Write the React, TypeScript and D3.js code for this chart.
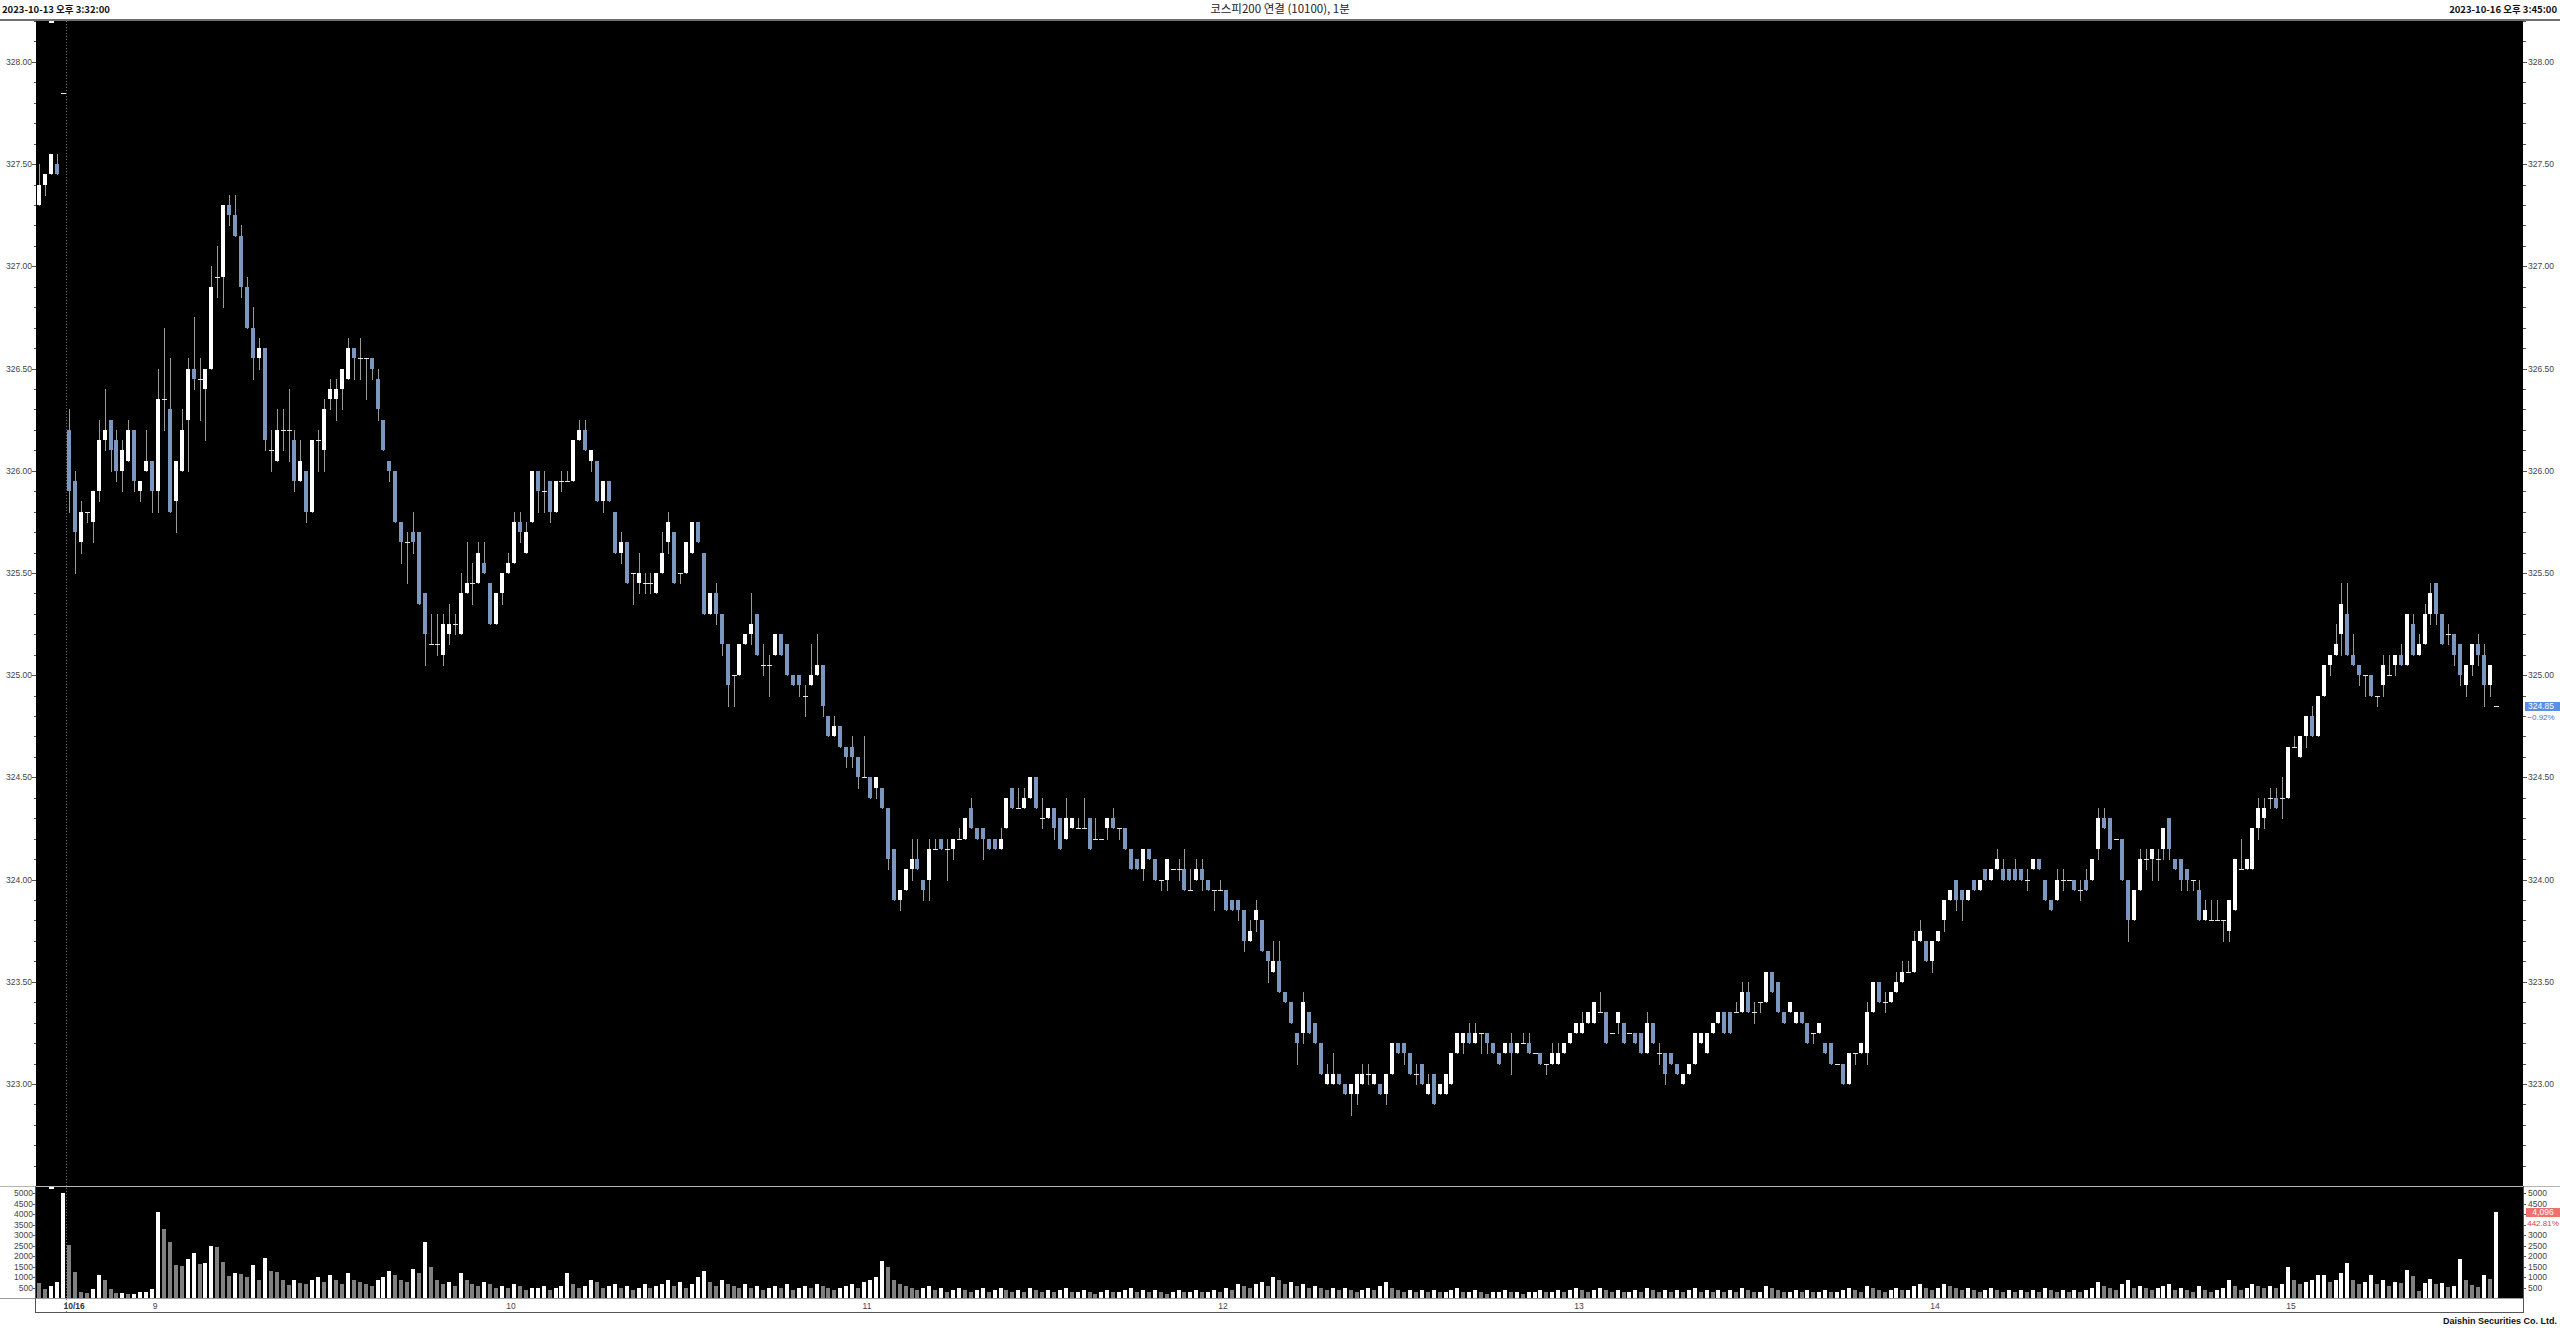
import * as d3 from "d3";
import { useEffect } from "react";

// candles: 5 from 10/13 close, then 10/16 from 08:45
const opens = [
  327.3, 327.4, 327.45, 327.5, 327.85,
  326.2, 325.95, 325.65, 325.8, 325.75, 325.9, 326.15, 326.25, 326.15, 326.0,
  326.05, 326.2, 325.9, 326.0, 326.05, 325.9, 326.35, 326.3, 325.85, 326.0,
  326.25, 326.5, 326.45, 326.4, 326.5, 326.95, 326.95, 327.3, 327.25, 327.15,
  326.9, 326.7, 326.55, 326.6, 326.1, 326.05, 326.2, 326.2, 326.15, 325.95,
  326.0, 325.8, 326.15, 326.1, 326.35, 326.35, 326.4, 326.45, 326.6, 326.55,
  326.55, 326.55, 326.45, 326.25, 326.05, 326.0, 325.75, 325.65, 325.7, 325.7,
  325.4, 325.15, 325.15, 325.1, 325.2, 325.25, 325.2, 325.4, 325.45, 325.45,
  325.55, 325.45, 325.25, 325.4, 325.5, 325.55, 325.75, 325.6, 325.75, 326.0,
  325.9, 325.95, 325.8, 325.95, 325.95, 325.95, 326.15, 326.2, 326.05, 326.05,
  325.85, 325.95, 325.8, 325.6, 325.65, 325.5, 325.45, 325.45, 325.45, 325.4,
  325.5, 325.65, 325.7, 325.5, 325.5, 325.6, 325.75, 325.6, 325.3, 325.4,
  325.3, 325.15, 325.0, 325.0, 325.15, 325.2, 325.3, 325.05, 325.05, 325.1,
  325.2, 325.15, 325.0, 325.0, 324.9, 324.95, 325.0, 325.05, 324.8, 324.7,
  324.75, 324.65, 324.65, 324.6, 324.5, 324.5, 324.45, 324.45, 324.35, 324.15,
  323.9, 323.95, 324.05, 324.1, 324.0, 324.0, 324.15, 324.2, 324.15, 324.15,
  324.2, 324.2, 324.35, 324.25, 324.25, 324.2, 324.2, 324.15, 324.25, 324.45,
  324.35, 324.35, 324.4, 324.5, 324.3, 324.3, 324.35, 324.3, 324.2, 324.25,
  324.25, 324.25, 324.3, 324.2, 324.2, 324.25, 324.3, 324.25, 324.25, 324.15,
  324.1, 324.05, 324.15, 324.1, 324.0, 324.0, 324.05, 324.05, 324.05, 323.95,
  324.0, 324.05, 324.0, 323.95, 323.95, 323.95, 323.9, 323.9, 323.85, 323.7,
  323.8, 323.8, 323.65, 323.55, 323.6, 323.45, 323.4, 323.25, 323.25, 323.35,
  323.3, 323.2, 323.0, 323.0, 323.05, 323.0, 322.95, 322.95, 323.0, 323.05,
  323.0, 323.0, 322.95, 323.05, 323.2, 323.2, 323.15, 323.05, 323.1, 322.95,
  323.05, 322.95, 322.95, 323.0, 323.15, 323.2, 323.25, 323.2, 323.25, 323.25,
  323.2, 323.15, 323.15, 323.2, 323.15, 323.2, 323.2, 323.15, 323.15, 323.1,
  323.1, 323.1, 323.15, 323.2, 323.25, 323.25, 323.3, 323.3, 323.35, 323.35,
  323.25, 323.3, 323.3, 323.25, 323.25, 323.25, 323.15, 323.3, 323.15, 323.15,
  323.15, 323.1, 323.0, 323.05, 323.1, 323.2, 323.15, 323.25, 323.3, 323.35,
  323.35, 323.35, 323.35, 323.45, 323.35, 323.4, 323.4, 323.55, 323.5, 323.35,
  323.35, 323.3, 323.35, 323.3, 323.25, 323.25, 323.2, 323.2, 323.1, 323.1,
  323.0, 323.15, 323.15, 323.15, 323.35, 323.5, 323.4, 323.4, 323.45, 323.5,
  323.55, 323.55, 323.7, 323.7, 323.6, 323.7, 323.8, 323.9, 324.0, 323.95,
  323.9, 324.0, 323.95, 324.05, 324.0, 324.05, 324.05, 324.05, 324.05, 324.05,
  324.0, 324.05, 324.1, 324.0, 323.9, 323.9, 324.0, 324.0, 324.0, 323.95,
  324.0, 324.0, 324.15, 324.3, 324.3, 324.2, 324.2, 324.0, 323.8, 323.95,
  324.1, 324.1, 324.1, 324.15, 324.3, 324.1, 324.1, 324.05, 324.0, 323.95,
  323.8, 323.8, 323.8, 323.8, 323.75, 323.85, 324.05, 324.05, 324.05, 324.25,
  324.3, 324.4, 324.4, 324.4, 324.4, 324.65, 324.6, 324.7, 324.8, 324.7,
  324.9, 325.05, 325.1, 325.2, 325.3, 325.1, 325.05, 325.0, 325.0, 324.9,
  324.95, 325.0, 325.05, 325.1, 325.05, 325.25, 325.1, 325.15, 325.3, 325.45,
  325.3, 325.2, 325.2, 325.15, 324.95, 325.05, 325.15, 325.1, 324.95, 324.85,
];

const highs = [
  327.5, 327.45, 327.55, 327.55, 327.85,
  326.3, 326.0, 325.85, 325.8, 325.9, 326.25, 326.4, 326.25, 326.2, 326.15,
  326.25, 326.2, 325.95, 326.2, 326.05, 326.5, 326.7, 326.55, 326.05, 326.3,
  326.55, 326.75, 326.55, 326.5, 327.0, 327.1, 327.3, 327.35, 327.35, 327.2,
  326.95, 326.8, 326.65, 326.6, 326.2, 326.3, 326.3, 326.4, 326.2, 326.15,
  326.0, 326.15, 326.2, 326.35, 326.45, 326.45, 326.5, 326.65, 326.6, 326.65,
  326.55, 326.55, 326.5, 326.25, 326.05, 326.0, 325.75, 325.7, 325.8, 325.7,
  325.4, 325.3, 325.3, 325.3, 325.35, 325.3, 325.5, 325.65, 325.55, 325.65,
  325.65, 325.45, 325.4, 325.5, 325.6, 325.8, 325.8, 325.75, 326.0, 326.0,
  326.0, 325.95, 325.95, 326.0, 326.0, 326.15, 326.25, 326.25, 326.1, 326.05,
  325.95, 325.95, 325.8, 325.7, 325.65, 325.5, 325.6, 325.5, 325.5, 325.5,
  325.7, 325.8, 325.7, 325.5, 325.65, 325.75, 325.75, 325.6, 325.4, 325.45,
  325.3, 325.15, 325.0, 325.15, 325.2, 325.4, 325.3, 325.15, 325.1, 325.2,
  325.2, 325.15, 325.0, 325.0, 324.95, 325.15, 325.2, 325.05, 324.8, 324.8,
  324.75, 324.65, 324.7, 324.6, 324.7, 324.5, 324.5, 324.45, 324.35, 324.15,
  323.95, 324.05, 324.2, 324.2, 324.0, 324.2, 324.2, 324.2, 324.2, 324.2,
  324.25, 324.3, 324.4, 324.25, 324.25, 324.2, 324.2, 324.25, 324.4, 324.45,
  324.45, 324.45, 324.5, 324.5, 324.4, 324.35, 324.35, 324.3, 324.4, 324.3,
  324.3, 324.4, 324.3, 324.3, 324.2, 324.3, 324.35, 324.25, 324.25, 324.15,
  324.1, 324.15, 324.15, 324.1, 324.0, 324.1, 324.05, 324.1, 324.15, 324.05,
  324.1, 324.1, 324.0, 323.95, 324.0, 323.95, 323.9, 323.9, 323.85, 323.8,
  323.9, 323.8, 323.65, 323.7, 323.7, 323.45, 323.4, 323.25, 323.45, 323.35,
  323.3, 323.2, 323.1, 323.15, 323.05, 323.0, 323.0, 323.05, 323.1, 323.1,
  323.05, 323.0, 323.05, 323.2, 323.2, 323.2, 323.15, 323.1, 323.1, 323.05,
  323.05, 323.0, 323.05, 323.15, 323.25, 323.25, 323.3, 323.3, 323.25, 323.25,
  323.2, 323.15, 323.2, 323.25, 323.2, 323.25, 323.25, 323.15, 323.15, 323.1,
  323.2, 323.2, 323.2, 323.25, 323.3, 323.35, 323.35, 323.4, 323.45, 323.35,
  323.25, 323.35, 323.3, 323.25, 323.25, 323.25, 323.35, 323.3, 323.2, 323.15,
  323.15, 323.1, 323.05, 323.1, 323.25, 323.25, 323.25, 323.3, 323.35, 323.35,
  323.35, 323.4, 323.5, 323.5, 323.4, 323.4, 323.55, 323.55, 323.5, 323.35,
  323.4, 323.35, 323.35, 323.3, 323.25, 323.3, 323.2, 323.2, 323.1, 323.1,
  323.15, 323.15, 323.2, 323.4, 323.5, 323.5, 323.45, 323.45, 323.55, 323.6,
  323.6, 323.75, 323.8, 323.7, 323.7, 323.75, 323.9, 323.95, 324.0, 323.95,
  323.95, 324.0, 324.0, 324.05, 324.05, 324.15, 324.1, 324.05, 324.1, 324.05,
  324.05, 324.1, 324.1, 324.0, 323.9, 324.05, 324.05, 324.0, 324.0, 324.0,
  324.05, 324.1, 324.35, 324.35, 324.3, 324.2, 324.2, 324.0, 323.95, 324.15,
  324.15, 324.15, 324.15, 324.25, 324.3, 324.1, 324.1, 324.05, 324.0, 324.0,
  323.9, 323.9, 323.9, 323.8, 323.9, 324.1, 324.2, 324.1, 324.25, 324.4,
  324.4, 324.45, 324.45, 324.5, 324.65, 324.7, 324.7, 324.8, 324.85, 324.9,
  325.05, 325.1, 325.25, 325.45, 325.45, 325.2, 325.05, 325.0, 325.0, 324.9,
  325.1, 325.1, 325.1, 325.15, 325.3, 325.3, 325.2, 325.35, 325.45, 325.45,
  325.3, 325.25, 325.2, 325.15, 325.05, 325.15, 325.2, 325.15, 325.05, 324.85,
];

const lows = [
  327.3, 327.35, 327.45, 327.45, 327.85,
  325.8, 325.5, 325.6, 325.75, 325.65, 325.85, 326.1, 326.0, 325.95, 325.9,
  326.05, 325.9, 325.85, 326.0, 325.8, 325.8, 326.2, 325.8, 325.7, 326.0,
  326.0, 326.4, 326.25, 326.15, 326.5, 326.85, 326.8, 327.2, 327.15, 326.85,
  326.7, 326.45, 326.5, 326.1, 326.0, 326.05, 326.1, 326.05, 325.9, 325.95,
  325.75, 325.8, 326.0, 326.0, 326.3, 326.25, 326.3, 326.45, 326.45, 326.45,
  326.35, 326.45, 326.25, 326.1, 325.95, 325.75, 325.55, 325.45, 325.6, 325.35,
  325.05, 325.15, 325.1, 325.05, 325.15, 325.2, 325.2, 325.4, 325.35, 325.45,
  325.5, 325.25, 325.25, 325.35, 325.5, 325.55, 325.65, 325.6, 325.75, 325.8,
  325.8, 325.75, 325.8, 325.9, 325.95, 325.95, 326.15, 326.1, 326.0, 325.85,
  325.8, 325.85, 325.6, 325.55, 325.45, 325.35, 325.4, 325.4, 325.4, 325.4,
  325.5, 325.6, 325.45, 325.45, 325.5, 325.6, 325.65, 325.3, 325.3, 325.25,
  325.1, 324.85, 324.85, 325.0, 325.15, 325.15, 325.1, 325.0, 324.9, 325.1,
  325.1, 325.0, 324.95, 324.9, 324.8, 324.95, 325.0, 324.8, 324.7, 324.7,
  324.65, 324.55, 324.55, 324.45, 324.5, 324.4, 324.4, 324.35, 324.05, 323.9,
  323.85, 323.95, 324.0, 324.05, 323.9, 323.9, 324.15, 324.15, 324.0, 324.1,
  324.2, 324.2, 324.25, 324.2, 324.1, 324.15, 324.15, 324.15, 324.25, 324.35,
  324.35, 324.35, 324.4, 324.35, 324.25, 324.3, 324.2, 324.15, 324.2, 324.25,
  324.25, 324.25, 324.15, 324.2, 324.2, 324.2, 324.25, 324.2, 324.15, 324.05,
  324.05, 324.0, 324.1, 324.0, 323.95, 323.95, 324.05, 324.0, 323.95, 323.95,
  324.0, 323.95, 323.95, 323.85, 323.95, 323.85, 323.85, 323.8, 323.65, 323.7,
  323.75, 323.65, 323.5, 323.55, 323.45, 323.4, 323.3, 323.1, 323.2, 323.25,
  323.2, 323.05, 323.0, 323.0, 323.0, 322.95, 322.85, 322.9, 323.0, 323.0,
  323.0, 322.95, 322.9, 323.05, 323.15, 323.1, 323.05, 323.0, 323.0, 322.95,
  322.9, 322.95, 322.95, 323.0, 323.15, 323.15, 323.2, 323.2, 323.15, 323.15,
  323.15, 323.1, 323.15, 323.05, 323.15, 323.2, 323.15, 323.15, 323.1, 323.05,
  323.1, 323.1, 323.15, 323.2, 323.25, 323.25, 323.3, 323.3, 323.35, 323.2,
  323.25, 323.25, 323.2, 323.25, 323.2, 323.15, 323.15, 323.2, 323.1, 323.0,
  323.1, 323.05, 323.0, 323.05, 323.1, 323.2, 323.15, 323.25, 323.3, 323.25,
  323.25, 323.35, 323.35, 323.35, 323.3, 323.35, 323.4, 323.45, 323.35, 323.3,
  323.35, 323.3, 323.3, 323.2, 323.2, 323.25, 323.15, 323.1, 323.1, 323.0,
  323.0, 323.1, 323.15, 323.1, 323.35, 323.4, 323.35, 323.4, 323.45, 323.5,
  323.55, 323.55, 323.7, 323.6, 323.55, 323.7, 323.75, 323.9, 323.85, 323.8,
  323.9, 323.95, 323.95, 324.0, 324.0, 324.05, 324.0, 324.0, 324.0, 324.0,
  323.95, 324.05, 324.05, 323.9, 323.85, 323.9, 323.95, 324.0, 323.95, 323.9,
  323.95, 324.0, 324.1, 324.25, 324.15, 324.2, 324.0, 323.7, 323.8, 323.95,
  324.05, 324.0, 324.0, 324.1, 324.1, 324.05, 323.95, 323.95, 323.95, 323.8,
  323.8, 323.8, 323.8, 323.7, 323.7, 323.85, 324.05, 324.05, 324.05, 324.2,
  324.25, 324.35, 324.35, 324.3, 324.4, 324.65, 324.6, 324.65, 324.7, 324.7,
  324.9, 325.0, 325.1, 325.1, 325.1, 325.05, 324.95, 324.9, 324.9, 324.85,
  324.9, 325.0, 325.0, 325.05, 325.05, 325.1, 325.1, 325.15, 325.25, 325.25,
  325.15, 325.15, 325.05, 324.95, 324.9, 325.0, 325.05, 324.85, 324.9, 324.85,
];

const closes = [
  327.4, 327.45, 327.55, 327.45, 327.85,
  325.9, 325.7, 325.8, 325.8, 325.9, 326.15, 326.2, 326.1, 326.0, 326.1,
  326.2, 325.95, 325.95, 326.05, 325.9, 326.35, 326.35, 325.8, 326.05, 326.2,
  326.5, 326.45, 326.45, 326.5, 326.9, 326.95, 327.3, 327.25, 327.15, 326.9,
  326.7, 326.55, 326.6, 326.15, 326.1, 326.2, 326.2, 326.2, 325.95, 326.05,
  325.8, 326.15, 326.15, 326.3, 326.4, 326.4, 326.5, 326.6, 326.55, 326.55,
  326.55, 326.5, 326.3, 326.1, 326.0, 325.75, 325.65, 325.65, 325.65, 325.35,
  325.2, 325.15, 325.15, 325.25, 325.25, 325.25, 325.4, 325.45, 325.45, 325.6,
  325.5, 325.25, 325.4, 325.5, 325.55, 325.75, 325.7, 325.7, 326.0, 325.9,
  325.9, 325.8, 325.95, 325.95, 325.95, 326.15, 326.2, 326.1, 326.1, 325.85,
  325.95, 325.85, 325.6, 325.65, 325.45, 325.5, 325.5, 325.45, 325.45, 325.5,
  325.6, 325.75, 325.45, 325.5, 325.65, 325.75, 325.65, 325.3, 325.4, 325.3,
  325.15, 324.95, 325.0, 325.15, 325.2, 325.25, 325.1, 325.05, 325.05, 325.2,
  325.1, 325.0, 324.95, 324.95, 324.9, 325.0, 325.05, 324.85, 324.7, 324.75,
  324.65, 324.6, 324.6, 324.5, 324.5, 324.4, 324.5, 324.35, 324.1, 323.9,
  323.95, 324.05, 324.1, 324.05, 323.95, 324.15, 324.15, 324.15, 324.15, 324.2,
  324.2, 324.3, 324.25, 324.2, 324.2, 324.15, 324.15, 324.2, 324.4, 324.35,
  324.35, 324.4, 324.5, 324.35, 324.3, 324.35, 324.25, 324.15, 324.3, 324.3,
  324.25, 324.25, 324.15, 324.2, 324.2, 324.3, 324.25, 324.25, 324.15, 324.05,
  324.05, 324.15, 324.1, 324.0, 324.0, 324.1, 324.05, 324.05, 323.95, 323.95,
  324.05, 324.0, 323.95, 323.95, 323.95, 323.85, 323.85, 323.85, 323.7, 323.75,
  323.85, 323.65, 323.6, 323.6, 323.45, 323.4, 323.3, 323.2, 323.4, 323.25,
  323.2, 323.05, 323.05, 323.05, 323.0, 322.95, 323.0, 323.05, 323.05, 323.05,
  323.05, 322.95, 323.05, 323.2, 323.15, 323.15, 323.05, 323.05, 323.0, 323.0,
  322.9, 323.0, 323.05, 323.15, 323.25, 323.25, 323.2, 323.25, 323.25, 323.2,
  323.15, 323.1, 323.2, 323.15, 323.2, 323.2, 323.15, 323.15, 323.1, 323.1,
  323.15, 323.15, 323.2, 323.25, 323.3, 323.3, 323.35, 323.4, 323.35, 323.2,
  323.25, 323.35, 323.2, 323.25, 323.2, 323.15, 323.3, 323.2, 323.15, 323.05,
  323.1, 323.05, 323.05, 323.1, 323.25, 323.25, 323.25, 323.3, 323.35, 323.25,
  323.25, 323.35, 323.45, 323.35, 323.35, 323.4, 323.55, 323.45, 323.35, 323.3,
  323.4, 323.35, 323.3, 323.2, 323.25, 323.3, 323.15, 323.1, 323.1, 323.0,
  323.15, 323.15, 323.2, 323.35, 323.5, 323.4, 323.4, 323.45, 323.5, 323.55,
  323.55, 323.7, 323.75, 323.6, 323.7, 323.75, 323.9, 323.95, 323.9, 323.9,
  323.95, 323.95, 324.0, 324.0, 324.05, 324.1, 324.0, 324.0, 324.0, 324.0,
  324.0, 324.1, 324.05, 323.9, 323.85, 324.0, 324.0, 324.0, 323.95, 323.95,
  323.95, 324.1, 324.3, 324.25, 324.15, 324.2, 324.0, 323.8, 323.95, 324.1,
  324.1, 324.15, 324.1, 324.25, 324.15, 324.05, 324.0, 324.0, 324.0, 323.8,
  323.85, 323.8, 323.8, 323.8, 323.9, 324.1, 324.05, 324.1, 324.25, 324.35,
  324.35, 324.4, 324.35, 324.4, 324.65, 324.65, 324.7, 324.8, 324.7, 324.9,
  325.05, 325.1, 325.15, 325.35, 325.1, 325.05, 325.0, 325.0, 324.9, 324.9,
  325.05, 325.0, 325.1, 325.05, 325.3, 325.1, 325.15, 325.3, 325.4, 325.3,
  325.15, 325.2, 325.1, 325.0, 325.05, 325.15, 325.1, 324.95, 325.05, 324.85,
];

const volumes = [
  720, 460, 570, 800, 5000,
  2530, 1250, 300, 270, 470, 1100, 900, 470, 250, 280,
  210, 210, 300, 300, 440, 4080, 3300, 2680, 1580, 1520,
  1880, 2150, 1620, 1680, 2500, 2420, 1750, 1070, 1200, 1140,
  1040, 1580, 880, 1930, 1300, 1270, 860, 640, 880, 750,
  700, 900, 1000, 800, 1100, 900, 700, 1200, 900, 800,
  700, 600, 900, 1000, 1300, 1100, 900, 800, 1400, 1200,
  2700, 1500, 900, 700, 800, 600, 1200, 900, 700, 600,
  800, 700, 500, 600, 500, 700, 600, 400, 500, 500,
  600, 400, 500, 600, 1200, 700, 500, 600, 900, 800,
  500, 600, 700, 500, 600, 400, 500, 700, 500, 600,
  700, 900, 600, 800, 500, 700, 1000, 1300, 800, 600,
  900, 700, 600, 500, 700, 500, 600, 400, 500, 600,
  500, 700, 400, 500, 600, 500, 700, 600, 500, 400,
  500, 600, 700, 500, 800, 900, 1000, 1800, 1500, 900,
  700, 600, 500, 400, 500, 600, 400, 500, 300, 400,
  500, 400, 300, 400, 500, 300, 400, 500, 400, 300,
  400, 300, 500, 400, 300, 400, 300, 400, 500, 300,
  300, 400, 300, 200, 300, 400, 300, 300, 400, 500,
  300, 400, 300, 400, 300, 200, 300, 400, 300, 300,
  400, 300, 300, 400, 300, 500, 400, 700, 600, 500,
  700, 800, 600, 1000, 900, 700, 800, 600, 700, 500,
  600, 500, 400, 500, 400, 500, 400, 300, 400, 500,
  400, 600, 800, 500, 400, 300, 400, 300, 400, 300,
  400, 300, 300, 400, 500, 300, 300, 400, 300, 200,
  300, 300, 400, 300, 300, 200, 300, 300, 400, 300,
  300, 400, 300, 400, 500, 400, 300, 400, 500, 400,
  300, 400, 300, 300, 400, 300, 500, 400, 300, 400,
  300, 400, 300, 400, 500, 300, 400, 300, 400, 300,
  400, 300, 500, 400, 300, 300, 600, 500, 400, 300,
  300, 400, 300, 400, 300, 300, 400, 300, 300, 400,
  500, 400, 300, 600, 500, 400, 300, 400, 500, 400,
  400, 600, 700, 500, 400, 500, 700, 600, 500, 400,
  500, 400, 300, 400, 500, 400, 300, 400, 300, 400,
  300, 400, 300, 500, 400, 300, 400, 300, 400, 300,
  400, 500, 800, 600, 500, 400, 700, 900, 500, 600,
  500, 400, 500, 600, 700, 400, 500, 400, 300, 600,
  400, 300, 400, 500, 900, 600, 400, 500, 700, 600,
  500, 600, 500, 700, 1500, 900, 700, 800, 900, 1100,
  1100, 800, 900, 1200, 1700, 900, 700, 800, 1100, 700,
  900, 600, 800, 730, 1350, 1060, 370, 730, 920, 680,
  730, 560, 590, 1880, 880, 630, 540, 1105, 925, 4096,
];

const firstIndex = -5; // candle index of the first 10/13 bar
const dayLabel = "10/16";
const hourStarts = [15, 75, 135, 195, 255, 315, 375];
const hourLabels = ["9", "10", "11", "12", "13", "14", "15"];
const priceLabels = [328, 327.5, 327, 326.5, 326, 325.5, 325, 324.5, 324, 323.5, 323];
const volumeLabels = [5000, 4500, 4000, 3500, 3000, 2500, 2000, 1500, 1000, 500];
const titleLeft = "2023-10-13 오후 3:32:00";
const titleCenter = "코스피200 연결 (10100), 1분";
const titleRight = "2023-10-16 오후 3:45:00";
const footer = "Daishin Securities Co. Ltd.";

const W = 2560;
const H = 1328;
const plotLeft = 36;
const plotRight = 2523;
const priceTop = 20;
const priceBottom = 1186;
const volBottom = 1298;
const axisBottom = 1312;

const UP = "#ffffff";
const DOWN = "#7b97c0";
const WICK = "#9a9a9a";
const axisFont = "'Liberation Sans', Arial, sans-serif";
const krFont = "'Noto Sans CJK KR', 'Liberation Sans', sans-serif";

export default function App() {
  useEffect(() => {
    document.body.style.margin = "0";
  }, []);

  const x = d3.scaleLinear().domain([-5.56, 413.6]).range([plotLeft, plotRight]);
  const y = d3.scaleLinear().domain([322.501, 328.205]).range([priceBottom, priceTop]);
  const yv = d3.scaleLinear().domain([0, 5250]).range([1298.5, 1187.7]);

  const candles = opens.map((o, k) => ({
    i: k + firstIndex,
    o,
    h: highs[k],
    l: lows[k],
    c: closes[k],
    v: volumes[k],
    vUp: k > 0 && volumes[k] >= volumes[k - 1],
  }));

  const fmt2 = d3.format(".2f");
  const last = candles[candles.length - 1];
  const prevDayClose = closes[-firstIndex - 1];
  const chg = ((last.c - prevDayClose) / prevDayClose) * 100;
  const volRatio = (last.v / candles[candles.length - 2].v) * 100;

  const minorPrice = d3.range(3226, 3283).map((v) => v / 10);
  const sepX = Math.round(x(-0.5)) + 0.5;

  // right-hand volume labels hidden under the last-volume marker
  const volMarkY = yv(last.v);
  const rightVolumeLabels = volumeLabels.filter((v) => Math.abs(yv(v) - volMarkY) > 5 && Math.abs(yv(v) - (volMarkY + 10)) > 5);

  return (
    <svg
      width={W}
      height={H}
      style={{ position: "absolute", left: 0, top: 0, display: "block", background: "#fff" }}
    >
      <rect x={0} y={0} width={W} height={H} fill="#ffffff" />

      {/* header */}
      <text x={2} y={13} fontFamily={krFont} fontSize={9.5} fontWeight="bold" fill="#111">
        {titleLeft}
      </text>
      <text x={1280} y={13} fontFamily={krFont} fontSize={11.5} textAnchor="middle" fill="#222">
        {titleCenter}
      </text>
      <text x={2557} y={13} fontFamily={krFont} fontSize={9.5} fontWeight="bold" textAnchor="end" fill="#111">
        {titleRight}
      </text>
      <rect x={0} y={19} width={W} height={2} fill="#707070" />

      {/* panels */}
      <rect x={plotLeft} y={21} width={plotRight - plotLeft} height={priceBottom - 21} fill="#000" />
      <rect x={plotLeft} y={priceBottom + 1} width={plotRight - plotLeft} height={volBottom - priceBottom - 1} fill="#000" />
      <rect x={0} y={priceBottom} width={W} height={1} fill="#b4b4b4" />
      <rect x={0} y={volBottom} width={plotRight} height={1} fill="#9a9a9a" />
      <rect x={plotLeft} y={axisBottom} width={plotRight - plotLeft} height={1} fill="#555" />
      <rect x={plotLeft - 1} y={priceBottom} width={1} height={axisBottom - priceBottom + 1} fill="#555" />
      <rect x={plotRight} y={priceBottom} width={1} height={axisBottom - priceBottom + 1} fill="#555" />

      {/* session separator */}
      <line x1={sepX} x2={sepX} y1={21} y2={axisBottom} stroke="#6a6a6a" strokeWidth={1} strokeDasharray="1,2" />

      {/* price axis ticks */}
      {minorPrice.map((p) => (
        <g key={"m" + p}>
          <line x1={plotLeft - 2} x2={plotLeft} y1={Math.round(y(p)) + 0.5} y2={Math.round(y(p)) + 0.5} stroke="#555" />
          <line x1={plotRight} x2={plotRight + 3} y1={Math.round(y(p)) + 0.5} y2={Math.round(y(p)) + 0.5} stroke="#555" />
        </g>
      ))}
      {priceLabels.map((p) => (
        <g key={"p" + p} fontFamily={axisFont} fontSize={8.5} fill="#444">
          <line x1={plotLeft - 4} x2={plotLeft} y1={Math.round(y(p)) + 0.5} y2={Math.round(y(p)) + 0.5} stroke="#555" />
          <line x1={plotRight} x2={plotRight + 4} y1={Math.round(y(p)) + 0.5} y2={Math.round(y(p)) + 0.5} stroke="#555" />
          <text x={plotLeft - 4} y={y(p) + 3} textAnchor="end">{fmt2(p)}</text>
          <text x={plotRight + 5} y={y(p) + 3}>{fmt2(p)}</text>
        </g>
      ))}

      {/* volume axis */}
      {volumeLabels.map((v) => (
        <g key={"vl" + v} fontFamily={axisFont} fontSize={8.5} fill="#444">
          <line x1={plotLeft - 3} x2={plotLeft} y1={Math.round(yv(v)) + 0.5} y2={Math.round(yv(v)) + 0.5} stroke="#555" />
          <text x={plotLeft - 3} y={yv(v) + 3} textAnchor="end">{v}</text>
        </g>
      ))}
      {volumeLabels.map((v) => (
        <line key={"vt" + v} x1={plotRight} x2={plotRight + 3} y1={Math.round(yv(v)) + 0.5} y2={Math.round(yv(v)) + 0.5} stroke="#555" />
      ))}
      {rightVolumeLabels.map((v) => (
        <text key={"vr" + v} x={plotRight + 5} y={yv(v) + 3} fontFamily={axisFont} fontSize={8.5} fill="#444">
          {v}
        </text>
      ))}

      {/* candles */}
      {candles.map((d) => {
        const cx = Math.round(x(d.i));
        const top = Math.round(y(Math.max(d.o, d.c)));
        const bot = Math.round(y(Math.min(d.o, d.c)));
        const color = d.c > d.o ? UP : DOWN;
        const hy = Math.round(y(d.h));
        const ly = Math.round(y(d.l));
        return (
          <g key={"c" + d.i}>
            {ly > hy && <rect x={cx} y={hy} width={1} height={ly - hy + 1} fill={WICK} />}
            {d.c === d.o ? (
              <rect x={cx - 2} y={top} width={5} height={1} fill="#e6e6e6" />
            ) : (
              <rect x={cx - 2} y={top} width={4} height={Math.max(1, bot - top)} fill={color} />
            )}
          </g>
        );
      })}

      {/* volume */}
      {candles.map((d) => {
        const cx = Math.round(x(d.i));
        const t = Math.round(yv(d.v));
        return (
          <rect
            key={"vb" + d.i}
            x={cx - 2}
            y={t}
            width={4}
            height={volBottom - t}
            fill={d.vUp ? "#ffffff" : "#808080"}
          />
        );
      })}

      {/* small scroll markers */}
      <rect x={49} y={21} width={5} height={2} fill="#fff" />
      <rect x={49} y={priceBottom + 1} width={5} height={2} fill="#fff" />

      {/* time axis */}
      <text x={sepX - 3} y={1309} fontFamily={axisFont} fontSize={8.5} fontWeight="bold" fill="#333">
        {dayLabel}
      </text>
      {hourStarts.map((h, k) => (
        <text key={"h" + h} x={x(h - 0.5)} y={1309} fontFamily={axisFont} fontSize={8.5} textAnchor="middle" fill="#444">
          {hourLabels[k]}
        </text>
      ))}

      {/* last price marker */}
      <rect x={plotRight + 2} y={Math.round(y(last.c)) - 4} width={W - plotRight - 2} height={9} fill="#5b8ee6" />
      <text x={2541} y={y(last.c) + 3} fontFamily={axisFont} fontSize={8.5} textAnchor="middle" fill="#fff">
        {fmt2(last.c)}
      </text>
      <text x={2541} y={y(last.c) + 14} fontFamily={axisFont} fontSize={8} textAnchor="middle" fill="#3f73d9">
        {fmt2(chg) + "%"}
      </text>

      {/* last volume marker */}
      <rect x={plotRight + 3} y={Math.round(volMarkY) - 4} width={W - plotRight - 3} height={9} fill="#f07070" />
      <text x={2543} y={volMarkY + 3} fontFamily={axisFont} fontSize={8.5} textAnchor="middle" fill="#fff">
        {d3.format(",")(last.v)}
      </text>
      <text x={2543} y={volMarkY + 14} fontFamily={axisFont} fontSize={8} textAnchor="middle" fill="#e04040">
        {fmt2(volRatio) + "%"}
      </text>

      <text x={2557} y={1324} fontFamily={axisFont} fontSize={9} fontWeight="bold" textAnchor="end" fill="#111">
        {footer}
      </text>
    </svg>
  );
}
